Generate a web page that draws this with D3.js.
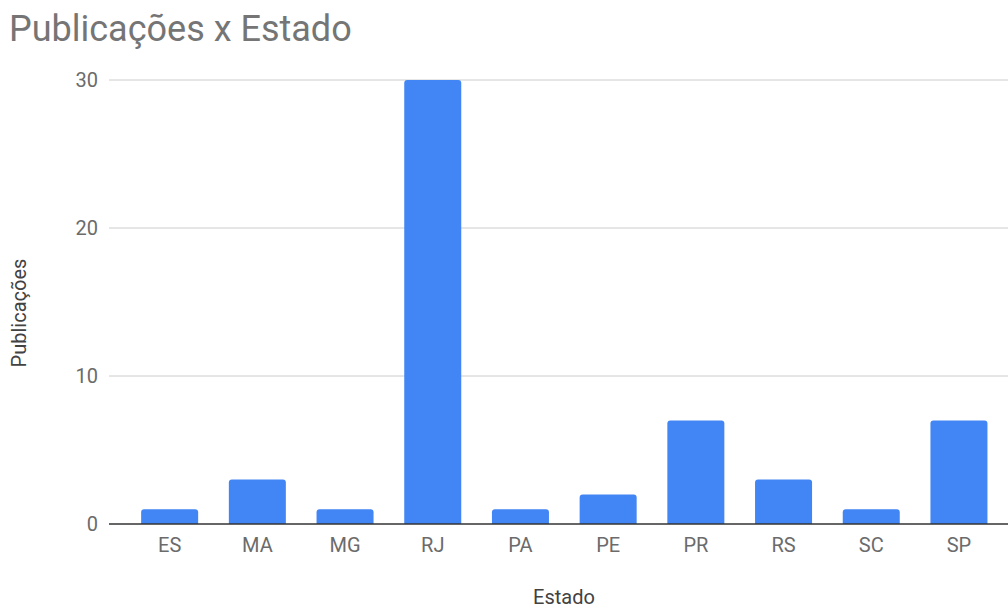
<!DOCTYPE html>
<html>
<head>
<meta charset="utf-8">
<script src="https://cdn.jsdelivr.net/npm/d3@7"></script>
<style>
  body { margin: 0; background: #fff; }
  text { font-family: Roboto, "Noto Sans", sans-serif; }
</style>
</head>
<body>
<script>
// dados
const estados = ['ES', 'MA', 'MG', 'RJ', 'PA', 'PE', 'PR', 'RS', 'SC', 'SP'];
const publicacoes = [1, 3, 1, 30, 1, 2, 7, 3, 1, 7];
const yTicks = [0, 10, 20, 30];

const width = 1008, height = 608;
const svg = d3.select('body').append('svg')
    .attr('width', width)
    .attr('height', height);

const x = d3.scaleBand()
    .domain(estados)
    .range([125.8, 1002.8])
    .paddingInner(0.35)
    .paddingOuter(0.175);

const y = d3.scaleLinear()
    .domain([0, 30])
    .range([524, 80]);

// título
svg.append('text')
    .attr('x', 9)
    .attr('y', 41)
    .attr('font-size', 36)
    .attr('fill', '#757575')
    .text('Publicações x Estado');

// grade
svg.append('g')
    .selectAll('line')
    .data(yTicks.filter(d => d > 0))
    .join('line')
    .attr('x1', 109).attr('x2', width)
    .attr('y1', d => y(d)).attr('y2', d => y(d))
    .attr('stroke', '#cccccc')
    .attr('stroke-width', 1);

// eixo y
const yAxis = svg.append('g')
    .attr('transform', 'translate(109,0)')
    .call(d3.axisLeft(y).tickValues(yTicks).tickSize(0).tickPadding(11));
yAxis.select('.domain').remove();
yAxis.selectAll('text')
    .attr('font-size', 20)
    .attr('fill', '#6b6b6b');

// barras com cantos superiores arredondados
const r = 3;
function barPath(d, i) {
    const x0 = x(estados[i]), w = x.bandwidth();
    const y0 = y(d), yb = y(0);
    return `M${x0},${yb}V${y0 + r}Q${x0},${y0} ${x0 + r},${y0}H${x0 + w - r}Q${x0 + w},${y0} ${x0 + w},${y0 + r}V${yb}Z`;
}
svg.append('g')
    .selectAll('path')
    .data(publicacoes)
    .join('path')
    .attr('d', barPath)
    .attr('fill', '#4285f4');

// linha base
svg.append('line')
    .attr('x1', 109).attr('x2', width)
    .attr('y1', y(0)).attr('y2', y(0))
    .attr('stroke', '#333333')
    .attr('stroke-width', 1.5);

// eixo x
const xAxis = svg.append('g')
    .attr('transform', `translate(0,${y(0)})`)
    .call(d3.axisBottom(x).tickSize(0).tickPadding(14));
xAxis.select('.domain').remove();
xAxis.selectAll('text')
    .attr('font-size', 20)
    .attr('fill', '#6b6b6b');

// títulos dos eixos
svg.append('text')
    .attr('x', 564)
    .attr('y', 604)
    .attr('text-anchor', 'middle')
    .attr('font-size', 20)
    .attr('fill', '#424242')
    .text('Estado');

svg.append('text')
    .attr('transform', 'translate(26,313) rotate(-90)')
    .attr('text-anchor', 'middle')
    .attr('font-size', 20)
    .attr('fill', '#424242')
    .text('Publicações');
</script>
</body>
</html>
